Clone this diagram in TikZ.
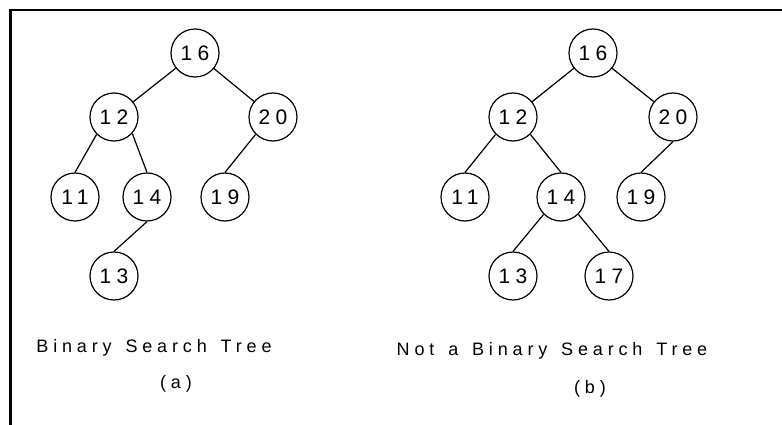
\documentclass[tikz,border=0pt]{standalone}
\usepackage{fontspec}
\newfontfamily\figfont[LetterSpace=25]{Liberation Sans}
\newfontfamily\capfont[LetterSpace=27,WordSpace=1.4]{Liberation Sans}
\usepackage{tikz}
\usetikzlibrary{positioning}

\begin{document}
\begin{tikzpicture}[
  x=1pt, y=-1pt,
  vert/.style={circle, draw=black, line width=1.2pt, fill=white,
               minimum size=48pt, inner sep=0pt,
               font=\figfont\fontsize{21}{25}\selectfont},
  lbl/.style={inner sep=0pt, font=\capfont\fontsize{18}{22}\selectfont},
  link/.style={line width=1.2pt, black}
]
\useasboundingbox (0,0) rectangle (782,425);
% frame
\draw[line width=2.5pt] (10.5,425) -- (10.5,10) -- (782,10);
% (a) binary search tree
\node[vert] (a16) at (195,53) {16};
\node[vert] (a12) at (114,117) {12};
\node[vert] (a20) at (273,117) {20};
\node[vert] (a11) at (75,197) {11};
\node[vert] (a14) at (147,197) {14};
\node[vert] (a19) at (225,197) {19};
\node[vert] (a13) at (114,276) {13};
\draw[link] (a16) -- (a12);
\draw[link] (a16) -- (a20);
\draw[link] (a12.-135) -- (a11.north);
\draw[link] (a12.-42) -- (a14.north);
\draw[link] (a20.-135) -- (a19.north);
\draw[link] (a14.south) -- (a13.north);
\node[lbl] (capa) at (154,348) {Binary Search Tree};
\node[lbl] (taga) at (176,384) {(a)};
% (b) not a binary search tree
\node[vert] (b16) at (593,53) {16};
\node[vert] (b12) at (513,117) {12};
\node[vert] (b20) at (673,117) {20};
\node[vert] (b11) at (465,197) {11};
\node[vert] (b14) at (561,197) {14};
\node[vert] (b19) at (641,197) {19};
\node[vert] (b13) at (513,276) {13};
\node[vert] (b17) at (609,276) {17};
\draw[link] (b16) -- (b12);
\draw[link] (b16) -- (b20);
\draw[link] (b12.-135) -- (b11.north);
\draw[link] (b12.-45) -- (b14.north);
\draw[link] (b20.south) -- (b19.north);
\draw[link] (b14.-135) -- (b13.north);
\draw[link] (b14.-45) -- (b17.north);
\node[lbl] (capb) at (552,351) {Not a Binary Search Tree};
\node[lbl] (tagb) at (590,389) {(b)};
\end{tikzpicture}
\end{document}
